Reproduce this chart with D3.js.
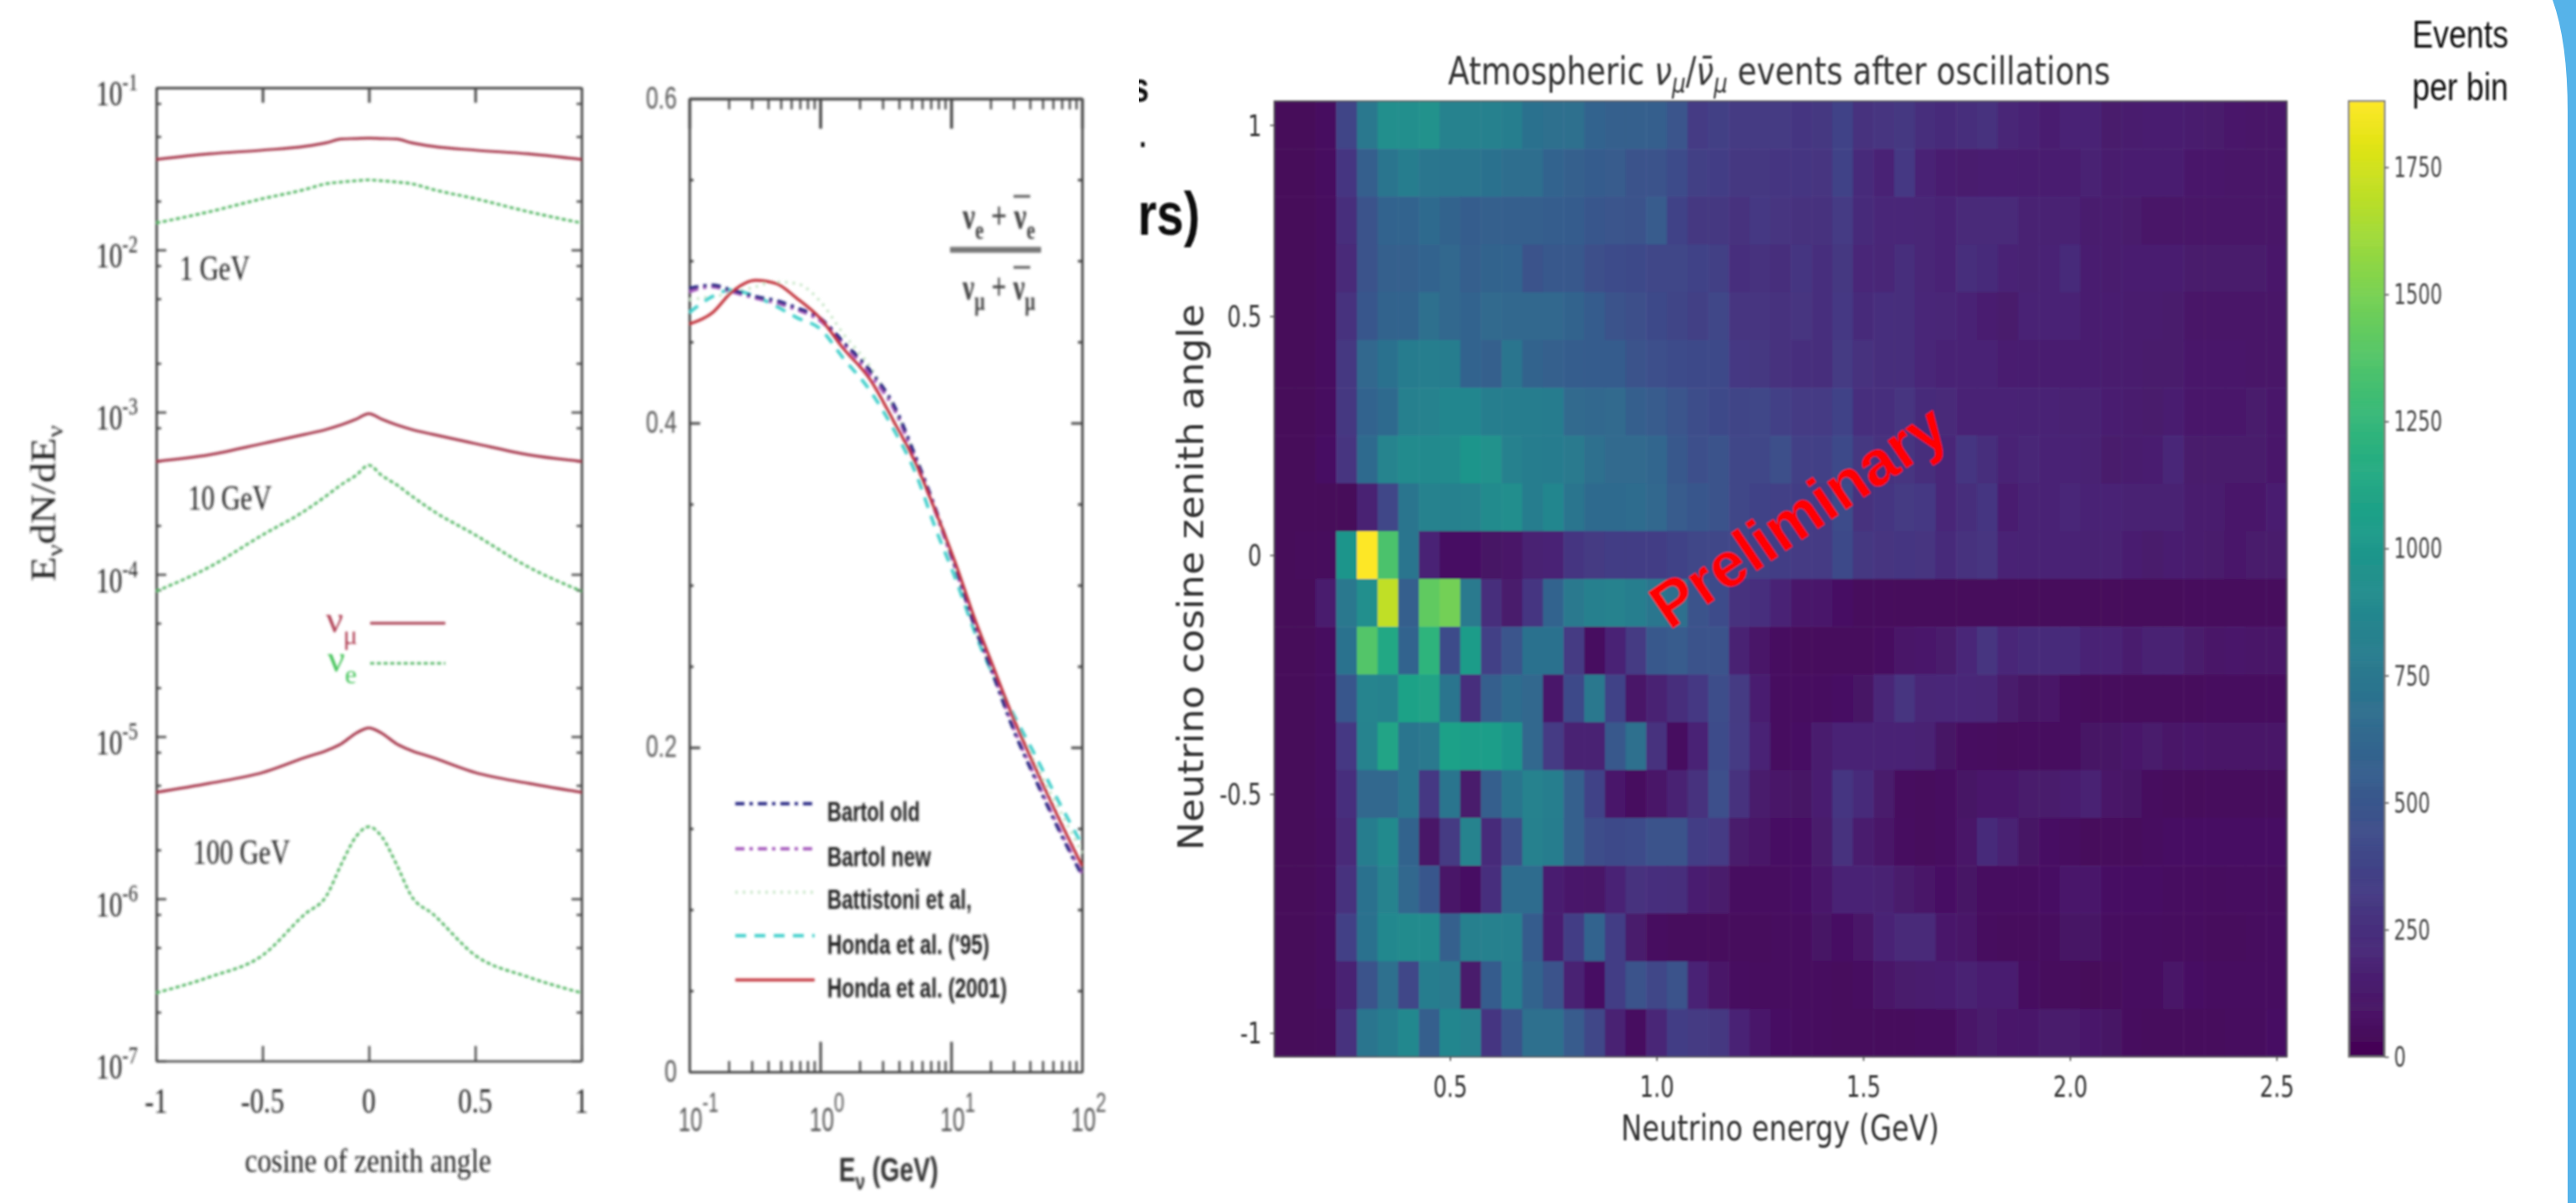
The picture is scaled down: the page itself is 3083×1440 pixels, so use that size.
<!DOCTYPE html>
<html>
<head>
<meta charset="utf-8">
<script src="https://d3js.org/d3.v7.min.js"></script>
<style>
  html, body { margin: 0; padding: 0; background: #fff; }
  svg { display: block; }
</style>
</head>
<body>
<div id="chart"></div>
<script>
// left panel: flux against cosine of zenith angle
const cosZenith = [-1, -0.75, -0.5, -0.3, -0.2, -0.13, -0.06, 0, 0.06, 0.13, 0.2, 0.3, 0.5, 0.75, 1];
const numu1GeV = [.0361, .0391, .0412, .0435, .0458, .0483, .0486, .0489, .0486, .0483, .0458, .0435, .0412, .0391, .0361];
const nue1GeV = [.01466, .0172, .0207, .0236, .0256, .0262, .0267, .0270, .0267, .0262, .0256, .0236, .0207, .0172, .01466];
const numu10GeV = [4.97e-4, 5.46e-4, 6.4e-4, 7.3e-4, 7.83e-4, 8.35e-4, 9.04e-4, 9.8e-4, 9.04e-4, 8.35e-4, 7.83e-4, 7.3e-4, 6.4e-4, 5.46e-4, 4.97e-4];
const nue10GeV = [7.87e-5, 1.11e-4, 1.75e-4, 2.47e-4, 3.05e-4, 3.57e-4, 4.08e-4, 4.71e-4, 4.08e-4, 3.57e-4, 3.05e-4, 2.47e-4, 1.75e-4, 1.11e-4, 7.87e-5];
const numu100GeV = [4.53e-6, 5.15e-6, 6.0e-6, 7.43e-6, 8.2e-6, 9.03e-6, 1.05e-5, 1.13e-5, 1.05e-5, 9.03e-6, 8.2e-6, 7.43e-6, 6.0e-6, 5.15e-6, 4.53e-6];
const nue100GeV = [2.63e-7, 3.29e-7, 4.48e-7, 8.07e-7, 1.04e-6, 1.63e-6, 2.42e-6, 2.78e-6, 2.42e-6, 1.63e-6, 1.04e-6, 8.07e-7, 4.48e-7, 3.29e-7, 2.63e-7];
const fluxExponents = [-1, -2, -3, -4, -5, -6, -7];
const cosTicks = [-1, -0.5, 0, 0.5, 1];
const cosLabels = ["-1", "-0.5", "0", "0.5", "1"];

// middle panel: flavour ratio against energy
const energyGeV = [.1, .15, .21, .32, .46, .66, 1, 1.5, 2.4, 3.7, 5.3, 7.6, 10.8, 15.5, 20, 31, 42, 64, 100];
const bartolOld = [.483, .485, .482, .478, .4755, .471, .4645, .45, .4325, .41, .38, .347, .311, .272, .249, .208, .184, .152, .121];
const bartolNew = [.481, .484, .481, .477, .474, .47, .463, .449, .43, .408, .378, .345, .31, .273, .25, .209, .185, .153, .122];
const battistoni = [.476, .478, .48, .484, .487, .486, .475, .455, .435, .408, .38, .345, .31, .272, .25, .215, .193, .165, .135];
const honda95 = [.468, .478, .482, .478, .472, .465, .458, .44, .42, .395, .37, .335, .304, .269, .248, .218, .198, .169, .14];
const honda2001 = [.461, .468, .4806, .488, .486, .477, .4645, .446, .427, .400, .376, .3455, .3135, .277, .254, .215, .191, .159, .127];
const ratioMajor = [0, 0.2, 0.4, 0.6];
const ratioMinor = [0.05, 0.1, 0.15, 0.25, 0.3, 0.35, 0.45, 0.5, 0.55];
const energyExponents = [-1, 0, 1, 2];
const energyMinorFactors = [2, 3, 4, 5, 6, 7, 8, 9];

// heatmap: events per bin, rows from the top (cos 0.9) down to cos -1
const energyBinStart = 0.075, energyBinWidth = 0.05;
const zenithTop = 0.95, zenithBinWidth = 0.1;
const eventsPerBin = [
  [35,35,70,380,750,930,930,960,830,830,820,800,700,690,680,600,570,570,560,490,330,350,320,320,320,290,300,370,270,280,300,240,230,240,270,200,180,160,190,190,130,140,160,160,140,130,120,110,110],
  [35,35,60,290,560,730,790,740,720,720,700,670,670,600,580,540,530,480,470,430,350,340,300,300,290,290,280,370,230,190,310,190,160,140,160,150,150,160,150,170,140,150,150,150,120,120,110,100,110],
  [35,35,55,240,470,600,600,650,590,550,570,560,560,550,540,500,490,470,530,370,300,300,270,310,280,260,270,330,230,210,210,200,190,220,220,220,170,170,170,140,140,130,110,110,110,100,110,100,100],
  [35,35,55,220,480,570,570,600,630,560,590,600,480,520,520,450,430,420,400,390,370,350,250,270,240,290,250,300,210,200,240,200,190,240,230,190,170,180,230,150,140,150,150,160,130,130,130,130,120],
  [35,35,55,260,500,590,590,680,620,600,640,620,620,620,590,540,470,450,420,380,350,400,280,280,260,280,250,310,230,250,240,210,200,190,150,130,190,180,180,150,150,140,140,130,110,100,110,110,100],
  [35,35,60,300,620,700,780,800,790,600,580,720,590,570,550,540,540,480,460,430,420,420,310,300,260,250,240,320,260,240,240,210,190,190,180,160,160,150,150,150,140,140,130,130,120,120,120,110,110],
  [35,35,70,300,600,650,810,830,860,860,800,790,790,780,640,630,640,560,530,490,440,420,380,390,360,330,330,370,250,250,280,230,220,190,190,190,180,180,170,170,160,140,130,160,120,120,120,130,120],
  [35,35,80,280,650,850,900,890,900,980,960,820,790,780,770,680,640,640,610,520,460,470,400,390,450,360,360,420,300,260,280,240,210,290,240,180,200,190,190,170,130,140,150,210,130,130,130,130,120],
  [30,35,30,35,170,400,720,830,820,830,900,920,790,860,730,650,650,660,620,530,500,480,390,370,360,340,330,430,270,290,320,310,210,240,290,150,190,190,210,180,180,170,170,170,140,140,120,120,160],
  [30,40,45,980,1880,1350,720,190,85,85,95,110,170,180,290,320,340,340,340,370,390,400,380,350,340,330,330,420,300,280,290,280,230,270,280,180,180,180,180,170,170,160,130,160,140,130,120,130,130],
  [35,35,140,750,930,1700,560,1420,1480,770,240,130,290,600,760,810,830,800,740,680,480,430,270,250,190,120,120,80,50,50,40,40,40,40,40,40,40,40,40,40,40,40,40,40,45,45,50,50,50],
  [35,35,70,710,1370,1130,600,1220,430,1030,360,490,700,700,320,60,180,320,520,530,470,470,170,110,60,50,50,50,50,70,110,120,130,210,280,210,230,230,230,190,180,140,170,170,130,110,120,100,100],
  [35,35,70,500,850,830,1080,1090,720,250,560,660,620,120,420,750,370,100,170,240,310,440,320,160,60,60,60,80,90,200,280,200,210,210,200,130,90,100,60,45,45,45,45,45,45,55,55,55,55],
  [35,35,60,310,840,1100,730,760,1070,1050,1050,980,620,330,170,170,510,680,260,70,180,430,330,190,70,80,140,190,180,190,190,170,90,70,55,45,55,55,70,90,90,120,130,110,120,110,100,100,100],
  [35,35,70,250,620,620,740,310,730,130,560,720,830,800,570,370,120,55,100,170,270,460,270,130,100,90,150,290,230,130,55,45,60,90,120,120,130,130,150,170,110,90,55,45,40,45,45,45,45],
  [35,35,55,220,790,890,590,100,320,840,230,450,820,790,570,440,420,430,480,480,340,330,130,110,80,80,130,270,140,100,60,45,60,100,230,170,90,80,60,40,45,50,70,80,80,80,80,80,80],
  [35,35,55,260,700,840,620,500,110,80,250,660,660,160,120,100,190,260,250,240,160,130,70,60,60,80,120,190,180,170,130,100,80,90,70,70,70,80,120,120,80,80,80,70,60,55,60,60,55],
  [35,35,55,360,700,880,900,900,570,810,820,810,540,150,340,600,340,130,70,50,45,50,50,45,55,55,90,80,100,180,220,220,120,100,55,50,50,55,90,90,60,60,60,55,55,50,50,55,70],
  [35,35,55,170,480,690,390,790,770,130,540,800,590,480,170,80,340,480,400,470,180,100,65,55,55,55,55,45,70,110,130,140,160,170,150,150,70,50,45,35,40,60,60,100,80,60,60,60,60],
  [35,35,40,270,720,790,880,560,860,830,290,480,690,680,530,400,170,70,200,340,320,300,180,120,80,65,55,45,45,45,45,55,55,100,130,120,120,130,130,120,90,55,45,45,45,45,55,55,80]
];
const heatEnergyTicks = [0.5, 1.0, 1.5, 2.0, 2.5];
// the top label of the source figure sits at the 0.9 row, not at 1
const heatZenithTicks = [-1, -0.5, 0, 0.5, 0.9];
const heatZenithLabels = ["-1", "-0.5", "0", "0.5", "1"];
const colorbarTicks = [0, 250, 500, 750, 1000, 1250, 1500, 1750];
const colorMax = 1880;

const serif = "'Liberation Serif', serif";
const sans = "'Liberation Sans', Arial, sans-serif";
const dejavu = "'DejaVu Sans', sans-serif";
const axisColor = "#444";

const svg = d3.select("#chart").append("svg")
    .attr("width", 3083)
    .attr("height", 1440);

// the reference is a blurred screenshot, so everything gets a soft filter
const defs = svg.append("defs");
[["soft", 1.4], ["softer", 1.2]].forEach(function(f) {
    defs.append("filter").attr("id", f[0])
        .attr("filterUnits", "userSpaceOnUse")
        .attr("x", 0).attr("y", 0).attr("width", 3083).attr("height", 1440)
      .append("feGaussianBlur").attr("stdDeviation", f[1]);
});
defs.append("clipPath").attr("id", "cropLeft")
  .append("rect").attr("x", 1363).attr("y", 0).attr("width", 200).attr("height", 400);

// the picture is stretched vertically, so glyphs are narrowed to fit
function squeeze(sel, k) {
    sel.each(function() {
        d3.select(this)
            .attr("textLength", this.getComputedTextLength() * k)
            .attr("lengthAdjust", "spacingAndGlyphs");
    });
    return sel;
}

function addText(g, x, y, str, size, family, color, k) {
    const t = g.append("text")
        .attr("x", x).attr("y", y)
        .style("font-family", family)
        .style("font-size", size + "px")
        .style("fill", color)
        .text(str);
    if (k) squeeze(t, k);
    return t;
}

// for text with tspans: scale the whole line to a given width
function fitWidth(t, x, y, width, angle) {
    const k = width / t.node().getComputedTextLength();
    t.attr("x", 0).attr("y", 0)
        .attr("transform", "translate(" + x + "," + y + ")" + (angle ? " rotate(" + angle + ")" : "") + " scale(" + k + ",1)");
    return t;
}

function styleAxis(g, width) {
    g.selectAll("path, line").attr("stroke", axisColor).attr("stroke-width", width);
    g.selectAll("text").remove();
    return g;
}

// ---------- left panel ----------
const p1 = svg.append("g").attr("filter", "url(#soft)");
const x1 = d3.scaleLinear().domain([-1, 1]).range([187, 696]);
const y1 = d3.scaleLog().domain([1e-7, 1e-1]).range([1270, 105]);
const fluxMajor = fluxExponents.map(e => Math.pow(10, e));
const fluxMinor = fluxExponents.slice(0, -1).flatMap(e => [0.8, 0.5, 0.2].map(m => m * Math.pow(10, e)));

p1.append("g").attr("transform", "translate(0,1270)")
    .call(d3.axisBottom(x1).tickValues(cosTicks).tickSize(-18).tickSizeOuter(0)).call(styleAxis, 2.5);
p1.append("g").attr("transform", "translate(0,105)")
    .call(d3.axisTop(x1).tickValues(cosTicks).tickSize(-18).tickSizeOuter(0)).call(styleAxis, 3);
p1.append("g").attr("transform", "translate(187,0)")
    .call(d3.axisLeft(y1).tickValues(fluxMajor).tickSize(-12).tickSizeOuter(0)).call(styleAxis, 2.5);
p1.append("g").attr("transform", "translate(696,0)")
    .call(d3.axisRight(y1).tickValues(fluxMajor).tickSize(-12).tickSizeOuter(0)).call(styleAxis, 2.5);
p1.append("g").attr("transform", "translate(187,0)")
    .call(d3.axisLeft(y1).tickValues(fluxMinor).tickSize(-6).tickSizeOuter(0)).call(styleAxis, 2.5);
p1.append("g").attr("transform", "translate(696,0)")
    .call(d3.axisRight(y1).tickValues(fluxMinor).tickSize(-6).tickSizeOuter(0)).call(styleAxis, 2.5);

const fluxLine = d3.line()
    .x((d, i) => x1(cosZenith[i]))
    .y(d => y1(d))
    .curve(d3.curveMonotoneX);

[numu1GeV, numu10GeV, numu100GeV].forEach(function(s) {
    p1.append("path").attr("d", fluxLine(s))
        .attr("fill", "none").attr("stroke", "#a5344a").attr("stroke-width", 3.2);
});
[nue1GeV, nue10GeV, nue100GeV].forEach(function(s) {
    p1.append("path").attr("d", fluxLine(s))
        .attr("fill", "none").attr("stroke", "#58b868").attr("stroke-width", 3.2)
        .attr("stroke-dasharray", "5,3");
});

// flux tick labels, 10 with a raised exponent
fluxExponents.forEach(function(e) {
    const t = addText(p1, 0, 0, "10", 42, serif, "#222");
    t.append("tspan").attr("dy", -18).style("font-size", "30px").text(String(e));
    fitWidth(t, 115, y1(Math.pow(10, e)) + 21, 50);
});
cosTicks.forEach(function(v, i) {
    addText(p1, x1(v), 1332, cosLabels[i], 42, serif, "#222", 0.78).attr("text-anchor", "middle");
});
addText(p1, 293, 1403, "cosine of zenith angle", 40, serif, "#222")
    .attr("textLength", 295).attr("lengthAdjust", "spacingAndGlyphs");
addText(p1, 215, 335, "1 GeV", 42, serif, "#222").attr("textLength", 84).attr("lengthAdjust", "spacingAndGlyphs");
addText(p1, 225, 610, "10 GeV", 42, serif, "#222").attr("textLength", 100).attr("lengthAdjust", "spacingAndGlyphs");
addText(p1, 231, 1034, "100 GeV", 42, serif, "#222").attr("textLength", 116).attr("lengthAdjust", "spacingAndGlyphs");

const fluxTitle = addText(p1, 0, 0, "", 42, serif, "#222");
fluxTitle.append("tspan").text("E");
fluxTitle.append("tspan").attr("dy", 9).style("font-size", "28px").text("ν");
fluxTitle.append("tspan").attr("dy", -9).text("dN/dE");
fluxTitle.append("tspan").attr("dy", 9).style("font-size", "28px").text("ν");
fitWidth(fluxTitle, 66, 696, 187, -90);

// flavour key
const nuMu = addText(p1, 390, 757, "ν", 46, serif, "#b04055");
nuMu.append("tspan").attr("dy", 14).style("font-size", "32px").text("μ");
p1.append("line").attr("x1", 443).attr("x2", 533).attr("y1", 746).attr("y2", 746)
    .attr("stroke", "#a5344a").attr("stroke-width", 3.2);
const nuE = addText(p1, 392, 804, "ν", 46, serif, "#45c45a");
nuE.append("tspan").attr("dy", 14).style("font-size", "32px").text("e");
p1.append("line").attr("x1", 443).attr("x2", 533).attr("y1", 794).attr("y2", 794)
    .attr("stroke", "#58b868").attr("stroke-width", 3.2).attr("stroke-dasharray", "5,3");

// ---------- middle panel ----------
const p2 = svg.append("g").attr("filter", "url(#soft)");
const x2 = d3.scaleLog().domain([0.1, 100]).range([825, 1295]);
const y2 = d3.scaleLinear().domain([0, 0.6]).range([1283, 118]);
const energyMajor = energyExponents.map(e => Math.pow(10, e));
const energyMinor = energyExponents.slice(0, -1).flatMap(e => energyMinorFactors.map(m => m * Math.pow(10, e)));

p2.append("g").attr("transform", "translate(0,1283)")
    .call(d3.axisBottom(x2).tickValues(energyMajor).tickSize(-36).tickSizeOuter(0)).call(styleAxis, 3);
p2.append("g").attr("transform", "translate(0,118)")
    .call(d3.axisTop(x2).tickValues(energyMajor).tickSize(-36).tickSizeOuter(0)).call(styleAxis, 3.5);
p2.append("g").attr("transform", "translate(0,1283)")
    .call(d3.axisBottom(x2).tickValues(energyMinor).tickSize(-13).tickSizeOuter(0)).call(styleAxis, 2.5);
p2.append("g").attr("transform", "translate(0,118)")
    .call(d3.axisTop(x2).tickValues(energyMinor).tickSize(-13).tickSizeOuter(0)).call(styleAxis, 2.5);
p2.append("g").attr("transform", "translate(825,0)")
    .call(d3.axisLeft(y2).tickValues(ratioMajor).tickSize(-13).tickSizeOuter(0)).call(styleAxis, 3);
p2.append("g").attr("transform", "translate(1295,0)")
    .call(d3.axisRight(y2).tickValues(ratioMajor).tickSize(-13).tickSizeOuter(0)).call(styleAxis, 3);
p2.append("g").attr("transform", "translate(825,0)")
    .call(d3.axisLeft(y2).tickValues(ratioMinor).tickSize(-5).tickSizeOuter(0)).call(styleAxis, 3);
p2.append("g").attr("transform", "translate(1295,0)")
    .call(d3.axisRight(y2).tickValues(ratioMinor).tickSize(-5).tickSizeOuter(0)).call(styleAxis, 3);

const ratioLine = d3.line()
    .x((d, i) => x2(energyGeV[i]))
    .y(d => y2(d))
    .curve(d3.curveMonotoneX);

const ratioSeries = [
    {name: "Battistoni et al,", values: battistoni, color: "#c8e6c8", width: 3.5, dash: "3,6", key: 1068, base: 1088, len: 173},
    {name: "Honda et al. ('95)", values: honda95, color: "#45d0cc", width: 4, dash: "13,10", key: 1120, base: 1142, len: 194},
    {name: "Bartol new", values: bartolNew, color: "#a65bbd", width: 4, dash: "11,6,4,6", key: 1016, base: 1037, len: 124},
    {name: "Bartol old", values: bartolOld, color: "#2b2c85", width: 4, dash: "11,6,4,6", key: 962, base: 983, len: 111},
    {name: "Honda et al. (2001)", values: honda2001, color: "#c2303a", width: 3.5, dash: null, key: 1173, base: 1194, len: 215}
];

ratioSeries.forEach(function(s) {
    p2.append("path").attr("d", ratioLine(s.values))
        .attr("fill", "none").attr("stroke", s.color).attr("stroke-width", s.width)
        .attr("stroke-dasharray", s.dash);
    p2.append("line").attr("x1", 880).attr("x2", 975).attr("y1", s.key).attr("y2", s.key)
        .attr("stroke", s.color).attr("stroke-width", s.width)
        .attr("stroke-dasharray", s.dash);
    addText(p2, 990, s.base, s.name, 34, sans, "#222")
        .style("font-weight", "bold")
        .attr("textLength", s.len).attr("lengthAdjust", "spacingAndGlyphs");
});

ratioMajor.forEach(function(v) {
    addText(p2, 810, y2(v) - 1, String(v), 36, sans, "#555", 0.74)
        .attr("text-anchor", "end").attr("dominant-baseline", "central");
});
energyExponents.forEach(function(e) {
    const t = addText(p2, 0, 0, "10", 40, sans, "#555");
    t.append("tspan").attr("dy", -23).style("font-size", "34px").text(String(e));
    fitWidth(t, x2(Math.pow(10, e)) - 13, 1354, e < 0 ? 48 : 42);
});
const energyTitle = addText(p2, 0, 0, "E", 40, sans, "#333").style("font-weight", "bold");
energyTitle.append("tspan").attr("dy", 10).style("font-size", "28px").text("ν");
energyTitle.append("tspan").attr("dy", -10).text("  (GeV)");
fitWidth(energyTitle, 1004, 1414, 119);

// flavour ratio written as a fraction
function fractionLine(y, sub) {
    const t = addText(p2, 0, 0, "ν", 46, serif, "#444").style("font-weight", "bold");
    t.append("tspan").attr("dy", 12).style("font-size", "32px").text(sub);
    t.append("tspan").attr("dy", -12).text(" + ν");
    t.append("tspan").attr("dy", 12).style("font-size", "32px").text(sub);
    fitWidth(t, 1152, y, 87);
    p2.append("line").attr("x1", 1213).attr("x2", 1233).attr("y1", y - 39).attr("y2", y - 39)
        .attr("stroke", "#555").attr("stroke-width", 3);
}
fractionLine(274, "e");
fractionLine(359, "μ");
p2.append("line").attr("x1", 1137).attr("x2", 1246).attr("y1", 299).attr("y2", 299)
    .attr("stroke", "#777").attr("stroke-width", 7);

// leftovers of the slide title cut off behind the right figure
const cropped = svg.append("g").attr("clip-path", "url(#cropLeft)").append("g").attr("filter", "url(#softer)");
addText(cropped, 1436, 281, "ars)", 72, sans, "#111", 0.86)
    .style("font-weight", "bold").attr("text-anchor", "end");
addText(cropped, 1375, 122, "s", 50, sans, "#111", 0.8)
    .style("font-weight", "bold").attr("text-anchor", "end");
addText(cropped, 1372, 176, ".", 38, sans, "#111", 0.8)
    .style("font-weight", "bold").attr("text-anchor", "end");

// ---------- heatmap ----------
const p3 = svg.append("g").attr("filter", "url(#softer)");
const x3 = d3.scaleLinear().domain([energyBinStart, energyBinStart + energyBinWidth * eventsPerBin[0].length]).range([1525, 2737]);
const y3 = d3.scaleLinear().domain([zenithTop - zenithBinWidth * eventsPerBin.length, zenithTop]).range([1265, 121]);
const color = d3.scaleSequential(d3.interpolateViridis).domain([0, colorMax]);

const rows = p3.append("g").selectAll("g").data(eventsPerBin).join("g");
rows.selectAll("rect").data((row, r) => row.map((v, c) => ({v, r, c}))).join("rect")
    .attr("x", d => x3(energyBinStart + d.c * energyBinWidth))
    .attr("y", d => y3(zenithTop - d.r * zenithBinWidth))
    .attr("width", x3(energyBinWidth) - x3(0) + 0.5)
    .attr("height", y3(0) - y3(zenithBinWidth) + 0.5)
    .attr("fill", d => color(d.v));

p3.append("rect").attr("x", 1525).attr("y", 121).attr("width", 1212).attr("height", 1144)
    .attr("fill", "none").attr("stroke", "#555").attr("stroke-width", 1.5);

const heatX = p3.append("g").attr("transform", "translate(0,1265)")
    .call(d3.axisBottom(x3).tickValues(heatEnergyTicks).tickSize(5).tickPadding(8).tickFormat(d3.format(".1f")));
heatX.select(".domain").remove();
heatX.selectAll("line").attr("stroke", "#444").attr("stroke-width", 1.5);
heatX.selectAll("text")
    .attr("dy", null).attr("y", 48)
    .style("font-family", dejavu).style("font-size", "36px").style("fill", "#333")
    .call(squeeze, 0.72);

const heatY = p3.append("g").attr("transform", "translate(1525,0)")
    .call(d3.axisLeft(y3).tickValues(heatZenithTicks).tickSize(5).tickFormat((d, i) => heatZenithLabels[i]));
heatY.select(".domain").remove();
heatY.selectAll("line").attr("stroke", "#444").attr("stroke-width", 1.5);
heatY.selectAll("text")
    .attr("x", -15).attr("dy", null).attr("dominant-baseline", "central")
    .style("font-family", dejavu).style("font-size", "36px").style("fill", "#333")
    .call(squeeze, 0.72);

const heatTitle = addText(p3, 0, 0, "Atmospheric ", 46, dejavu, "#333");
heatTitle.append("tspan").style("font-style", "italic").text("ν");
heatTitle.append("tspan").attr("dy", 10).style("font-size", "32px").style("font-style", "italic").text("μ");
heatTitle.append("tspan").attr("dy", -10).text("/");
heatTitle.append("tspan").style("font-style", "italic").text("ν\u0304");
heatTitle.append("tspan").attr("dy", 10).style("font-size", "32px").style("font-style", "italic").text("μ");
heatTitle.append("tspan").attr("dy", -10).text(" events after oscillations");
fitWidth(heatTitle, 1733, 101, 793);

addText(p3, 1940, 1365, "Neutrino energy (GeV)", 42, dejavu, "#333")
    .attr("textLength", 381).attr("lengthAdjust", "spacingAndGlyphs");
addText(p3, 0, 0, "Neutrino cosine zenith angle", 42, dejavu, "#333")
    .attr("transform", "translate(1440,1018) rotate(-90)")
    .attr("textLength", 654).attr("lengthAdjust", "spacingAndGlyphs");

addText(p3, 1998, 755, "Preliminary", 76, sans, "#ff0000")
    .style("font-weight", "bold")
    .attr("transform", "rotate(-34.4 1998 755)")
    .attr("textLength", 410).attr("lengthAdjust", "spacingAndGlyphs");

// colour bar
const yBar = d3.scaleLinear().domain([0, colorMax]).range([1265, 121]);
p3.append("g").selectAll("rect").data(d3.range(0, colorMax, 5)).join("rect")
    .attr("x", 2811).attr("width", 43)
    .attr("y", d => yBar(d + 5))
    .attr("height", d => yBar(d) - yBar(d + 5) + 0.5)
    .attr("fill", d => color(d));
p3.append("rect").attr("x", 2811).attr("y", 121).attr("width", 43).attr("height", 1144)
    .attr("fill", "none").attr("stroke", "#777").attr("stroke-width", 2);

const barAxis = p3.append("g").attr("transform", "translate(2854,0)")
    .call(d3.axisRight(yBar).tickValues(colorbarTicks).tickSize(5).tickPadding(6).tickFormat(d3.format("d")));
barAxis.select(".domain").remove();
barAxis.selectAll("line").attr("stroke", "#444").attr("stroke-width", 1.5);
barAxis.selectAll("text")
    .attr("dy", null).attr("dominant-baseline", "central")
    .style("font-family", dejavu).style("font-size", "33px").style("fill", "#444")
    .call(squeeze, 0.69);

addText(p3, 2887, 57, "Events", 46, sans, "#111").attr("textLength", 115).attr("lengthAdjust", "spacingAndGlyphs");
addText(p3, 2887, 120, "per bin", 46, sans, "#111").attr("textLength", 115).attr("lengthAdjust", "spacingAndGlyphs");

// blue slide edge at the right
svg.append("path")
    .attr("d", "M3055,0 Q3073,50 3073,134 L3073,1440 L3083,1440 L3083,0 Z")
    .attr("fill", "#56b3e9");
</script>
</body>
</html>
